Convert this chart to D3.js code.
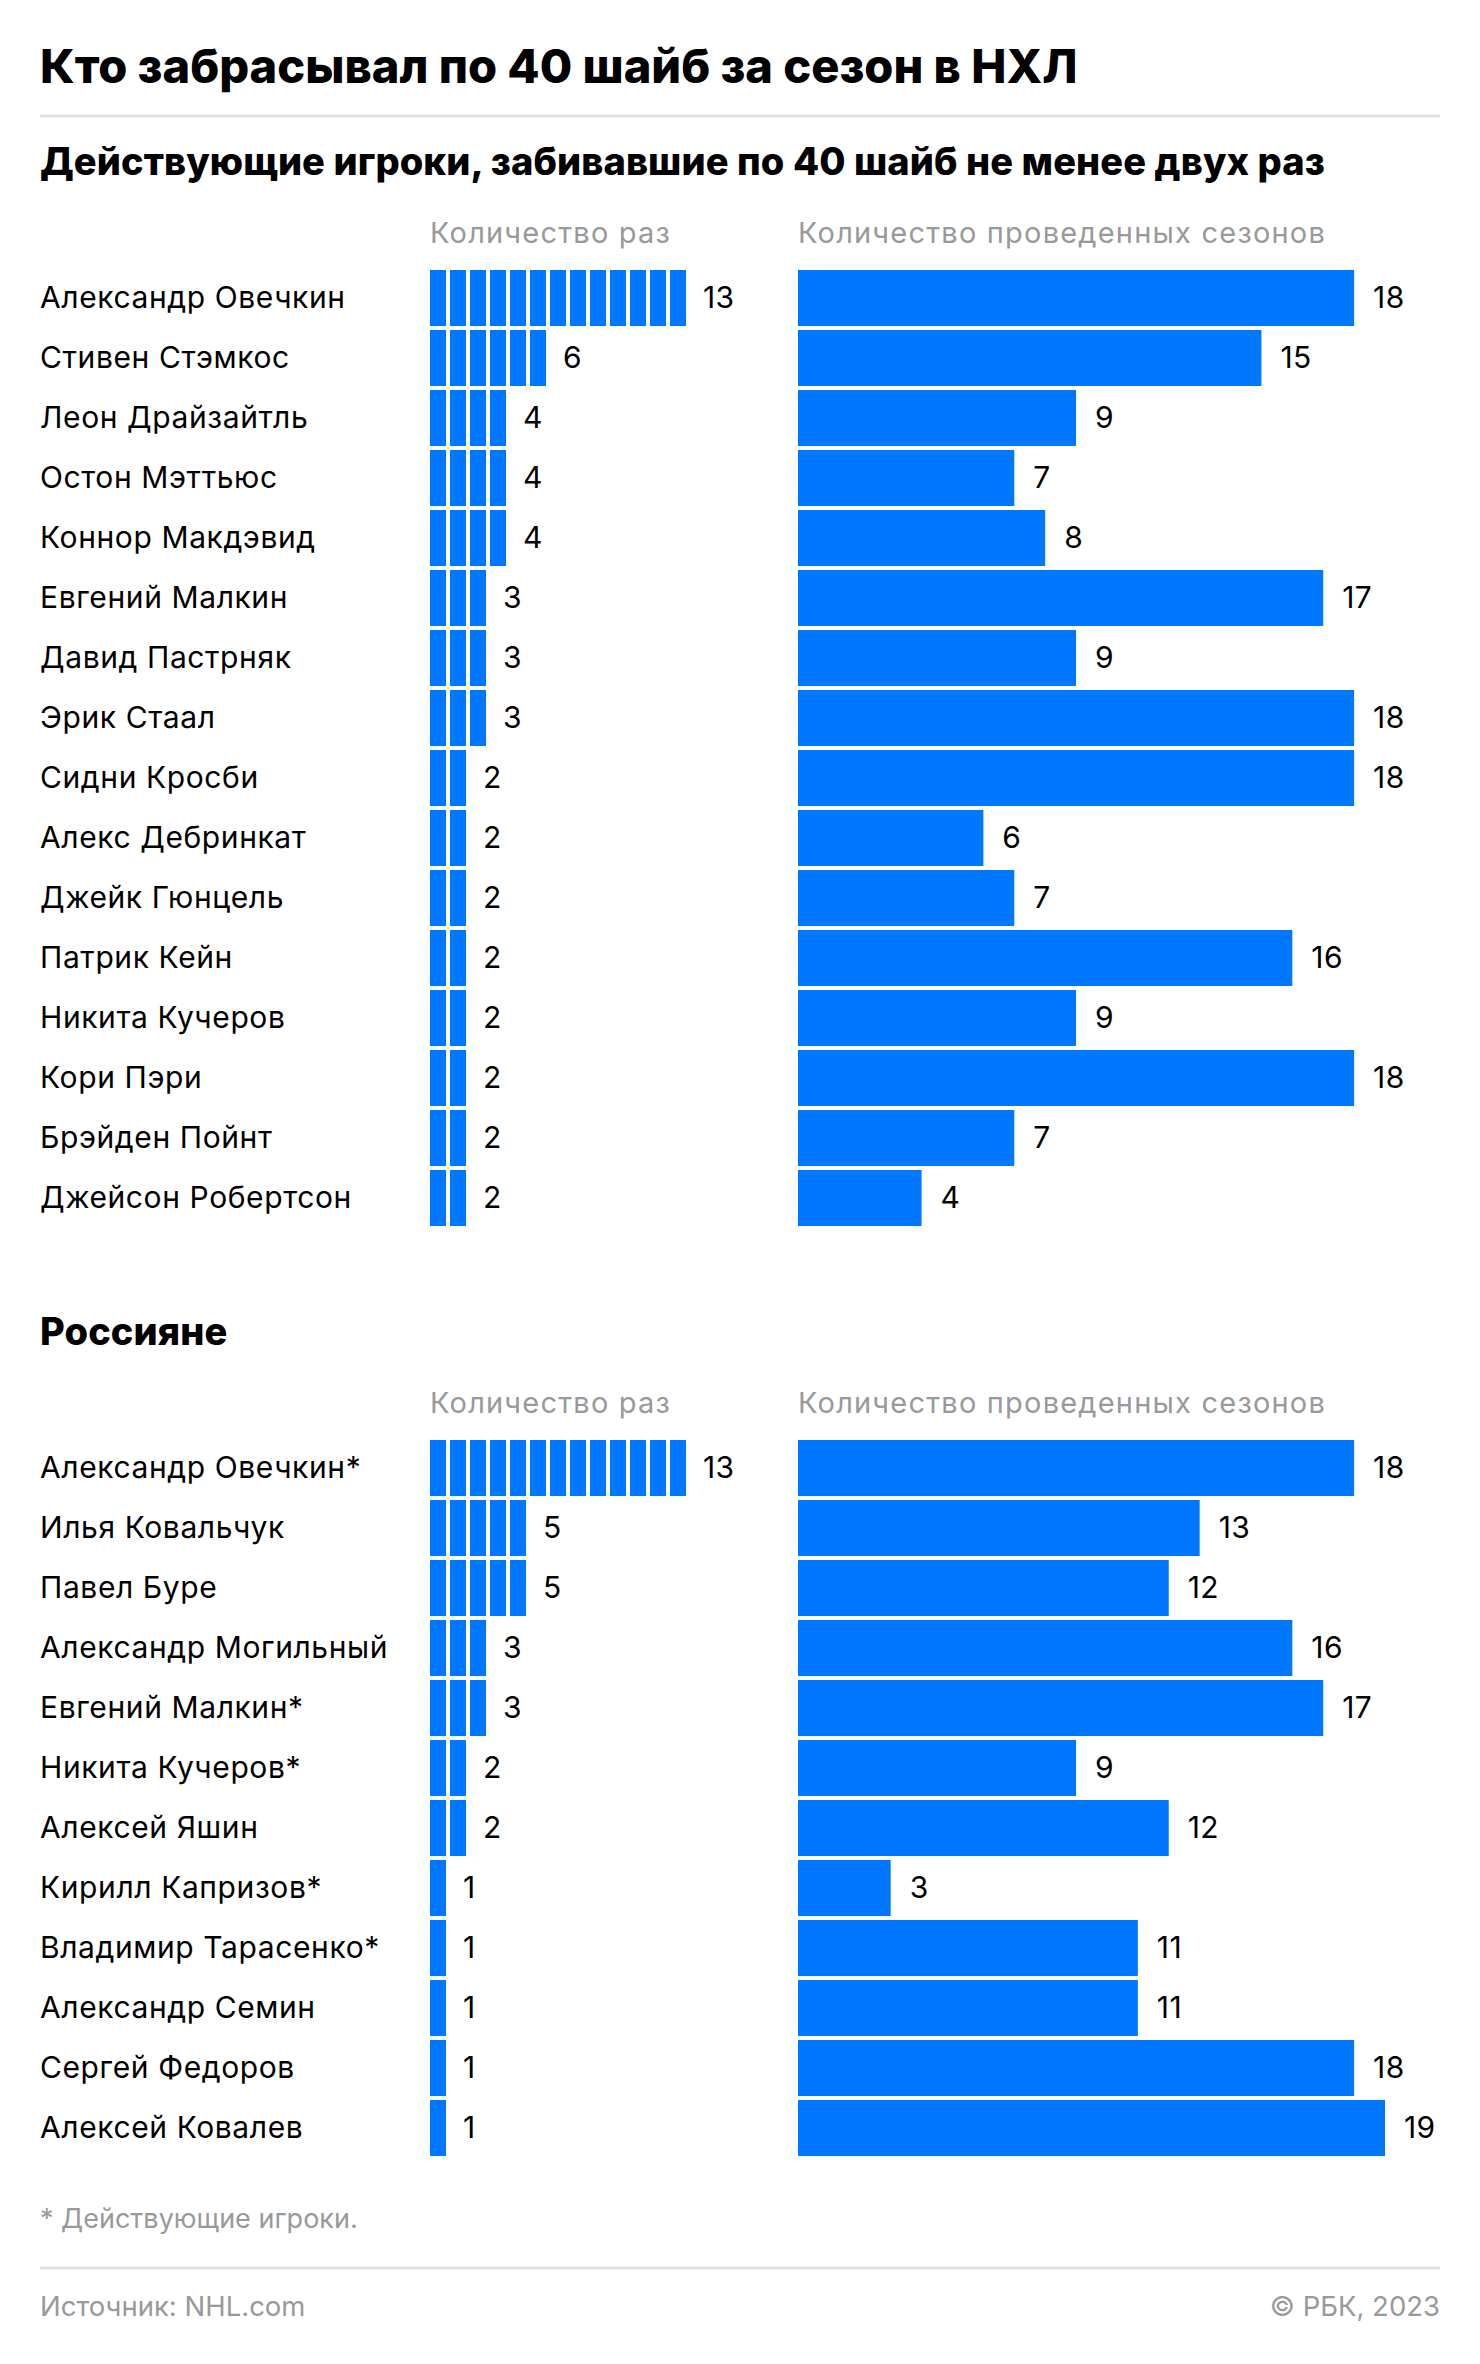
<!DOCTYPE html>
<html>
<head>
<meta charset="utf-8">
<script src="https://cdn.jsdelivr.net/npm/d3@7"></script>
<style>
  body { margin: 0; background: #fff; }
  svg text { font-family: Inter, "Noto Sans", sans-serif; }
</style>
</head>
<body>
<div id="chart"></div>
<script>
// Действующие игроки
const activeNames = [
  "Александр Овечкин", "Стивен Стэмкос", "Леон Драйзайтль", "Остон Мэттьюс",
  "Коннор Макдэвид", "Евгений Малкин", "Давид Пастрняк", "Эрик Стаал",
  "Сидни Кросби", "Алекс Дебринкат", "Джейк Гюнцель", "Патрик Кейн",
  "Никита Кучеров", "Кори Пэри", "Брэйден Пойнт", "Джейсон Робертсон"
];
const activeTimes = [13, 6, 4, 4, 4, 3, 3, 3, 2, 2, 2, 2, 2, 2, 2, 2];
const activeSeasons = [18, 15, 9, 7, 8, 17, 9, 18, 18, 6, 7, 16, 9, 18, 7, 4];

// Россияне
const russianNames = [
  "Александр Овечкин*", "Илья Ковальчук", "Павел Буре", "Александр Могильный",
  "Евгений Малкин*", "Никита Кучеров*", "Алексей Яшин", "Кирилл Капризов*",
  "Владимир Тарасенко*", "Александр Семин", "Сергей Федоров", "Алексей Ковалев"
];
const russianTimes = [13, 5, 5, 3, 3, 2, 2, 1, 1, 1, 1, 1];
const russianSeasons = [18, 13, 12, 16, 17, 9, 12, 3, 11, 11, 18, 19];

const headerTimes = "Количество раз";
const headerSeasons = "Количество проведенных сезонов";

const W = 1480, H = 2364;
const BLUE = "#0077ff";
const GREY = "#999999";
const ROW = 60;

const svg = d3.select("#chart").append("svg")
  .attr("width", W)
  .attr("height", H)
  .attr("viewBox", `0 0 ${W} ${H}`);

svg.append("rect").attr("width", W).attr("height", H).attr("fill", "#fff");

// заголовок
svg.append("text")
  .attr("x", 40).attr("y", 83)
  .style("font-size", "47px").style("font-weight", 800)
  .attr("fill", "#000")
  .text("Кто забрасывал по 40 шайб за сезон в НХЛ");

svg.append("line")
  .attr("x1", 40).attr("x2", 1440).attr("y1", 116).attr("y2", 116)
  .attr("stroke", "#e2e2e2").attr("stroke-width", 3);

// shared horizontal scales
const xTimes = d3.scaleLinear().domain([0, 13]).range([430, 690]);
const xSeasons = d3.scaleLinear().domain([0, 19]).range([798, 1385]);

function drawSection({ title, titleY, headerY, top, names, times, seasons }) {
  const g = svg.append("g");

  g.append("text")
    .attr("x", 40).attr("y", titleY)
    .style("font-size", "38px").style("font-weight", 800)
    .style("letter-spacing", "0.1px")
    .attr("fill", "#000")
    .text(title);

  g.append("text")
    .attr("x", xTimes(0)).attr("y", headerY)
    .style("font-size", "29px")
    .style("letter-spacing", "1.2px")
    .attr("fill", GREY)
    .text(headerTimes);

  g.append("text")
    .attr("x", xSeasons(0)).attr("y", headerY)
    .style("font-size", "29px")
    .style("letter-spacing", "1.2px")
    .attr("fill", GREY)
    .text(headerSeasons);

  const n = names.length;
  const y = d3.scaleBand()
    .domain(names)
    .range([top, top + n * ROW - 4])
    .paddingInner(4 / ROW)
    .paddingOuter(0);

  const rows = names.map((name, i) => ({ name, times: times[i], seasons: seasons[i] }));

  const row = g.selectAll(".row")
    .data(rows)
    .enter()
    .append("g")
    .attr("class", "row");

  // имя
  row.append("text")
    .attr("x", 40)
    .attr("y", d => y(d.name) + y.bandwidth() / 2)
    .attr("dy", "0.33em")
    .style("font-size", "30px")
    .style("letter-spacing", "0.6px")
    .attr("fill", "#000")
    .text(d => d.name);

  // unit bars, one block for each time
  const step = xTimes(1) - xTimes(0);
  row.each(function(d) {
    d3.select(this).selectAll(".unit")
      .data(d3.range(d.times))
      .enter()
      .append("rect")
      .attr("class", "unit")
      .attr("x", k => xTimes(k))
      .attr("y", y(d.name))
      .attr("width", step - 4)
      .attr("height", y.bandwidth())
      .attr("fill", BLUE);
  });

  row.append("text")
    .attr("x", d => xTimes(d.times) - 4 + 17)
    .attr("y", d => y(d.name) + y.bandwidth() / 2)
    .attr("dy", "0.33em")
    .style("font-size", "30px")
    .style("letter-spacing", "0.4px")
    .attr("fill", "#000")
    .text(d => d.times);

  // сезоны
  row.append("rect")
    .attr("x", xSeasons(0))
    .attr("y", d => y(d.name))
    .attr("width", d => xSeasons(d.seasons) - xSeasons(0))
    .attr("height", y.bandwidth())
    .attr("fill", BLUE);

  row.append("text")
    .attr("x", d => xSeasons(d.seasons) + 19)
    .attr("y", d => y(d.name) + y.bandwidth() / 2)
    .attr("dy", "0.33em")
    .style("font-size", "30px")
    .style("letter-spacing", "0.4px")
    .attr("fill", "#000")
    .text(d => d.seasons);
}

drawSection({
  title: "Действующие игроки, забивавшие по 40 шайб не менее двух раз",
  titleY: 175,
  headerY: 243,
  top: 270,
  names: activeNames,
  times: activeTimes,
  seasons: activeSeasons
});

drawSection({
  title: "Россияне",
  titleY: 1345,
  headerY: 1413,
  top: 1440,
  names: russianNames,
  times: russianTimes,
  seasons: russianSeasons
});

// подвал
svg.append("text")
  .attr("x", 40).attr("y", 2228)
  .style("font-size", "27px")
  .attr("fill", GREY)
  .text("* Действующие игроки.");

svg.append("line")
  .attr("x1", 40).attr("x2", 1440).attr("y1", 2268).attr("y2", 2268)
  .attr("stroke", "#e2e2e2").attr("stroke-width", 3);

svg.append("text")
  .attr("x", 40).attr("y", 2316)
  .style("font-size", "27.5px")
  .attr("fill", GREY)
  .text("Источник: NHL.com");

svg.append("text")
  .attr("x", 1440).attr("y", 2316)
  .attr("text-anchor", "end")
  .style("font-size", "27.5px")
  .attr("fill", GREY)
  .text("© РБК, 2023");
</script>
</body>
</html>
